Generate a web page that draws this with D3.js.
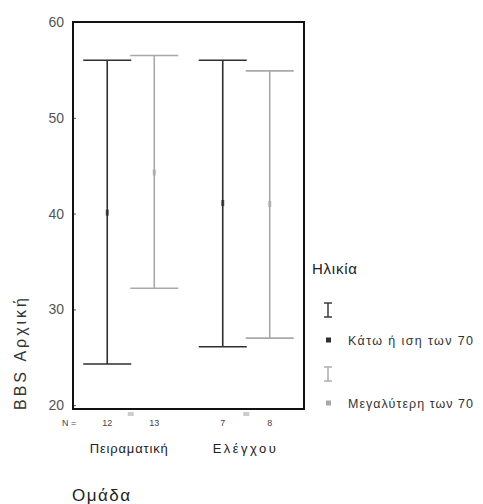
<!DOCTYPE html>
<html><head><meta charset="utf-8">
<script src="https://cdn.jsdelivr.net/npm/d3@7"></script>
<style>body{margin:0;background:#fff}svg{display:block}text{font-family:"Liberation Sans",Arial,sans-serif}</style>
</head><body>
<svg id="c" width="483" height="504"></svg>
<script>
const groups = ["Πειραματική", "Ελέγχου"];
const ageSeries = ["Κάτω ή ιση των 70", "Μεγαλύτερη των 70"];
const lowValues = [[24.3, 32.2], [26.1, 27.0]];
const highValues = [[56.0, 56.5], [56.0, 54.9]];
const meanValues = [[40.1, 44.3], [41.1, 41.0]];
const nValues = [[12, 13], [7, 8]];
const yTicks = [20, 30, 40, 50, 60];
const seriesColors = ["#2e2e2e", "#a9a9a9"];
const groupLabelLen = [78, 63];
const legendLabelLen = [125, 125];

const svg = d3.select("#c");
const L = 73, R = 304, T = 22, B = 409;
const x = d3.scalePoint().domain(groups).range([L, R]).padding(0.5);
const off = d3.scalePoint().domain(ageSeries).range([-23.5, 23.5]);
const y = d3.scaleLinear().domain([19.6, 60]).range([B, T]);
const capW = 24;

// y tick labels
const yAxis = d3.axisLeft(y).tickValues(yTicks).tickSize(-3).tickPadding(9).tickFormat(d3.format("d"));
const ga = svg.append("g").attr("transform", `translate(${L},0)`).call(yAxis);
ga.select(".domain").remove();
ga.selectAll(".tick line").attr("stroke", "#555");
ga.selectAll("text").attr("font-size", 14).attr("fill", "#555");

// frame
svg.append("rect").attr("x", L).attr("y", T).attr("width", R - L).attr("height", B - T)
  .attr("fill", "none").attr("stroke", "#111").attr("stroke-width", 2);

// x category ticks
[4, 6].forEach(dy => svg.append("g").selectAll("line").data(groups).join("line")
  .attr("x1", d => x(d) - 3).attr("x2", d => x(d) + 3)
  .attr("y1", B + dy).attr("y2", B + dy).attr("stroke", "#999").attr("stroke-width", 1));

// error bars
const items = [];
groups.forEach((g, gi) => ageSeries.forEach((s, si) => items.push({
  g, s, si, lo: lowValues[gi][si], hi: highValues[gi][si], m: meanValues[gi][si], n: nValues[gi][si]
})));
const eb = svg.append("g");
items.forEach(d => {
  const cx = x(d.g) + off(d.s);
  const col = seriesColors[d.si];
  eb.append("line").attr("x1", cx).attr("x2", cx).attr("y1", y(d.hi)).attr("y2", y(d.lo))
    .attr("stroke", col).attr("stroke-width", 1.6);
  [d.hi, d.lo].forEach(v => eb.append("line")
    .attr("x1", cx - capW).attr("x2", cx + capW).attr("y1", y(v)).attr("y2", y(v))
    .attr("stroke", col).attr("stroke-width", 1.6));
  eb.append("rect").attr("x", cx - 1.5).attr("y", y(d.m) - 3).attr("width", 3).attr("height", 6)
    .attr("fill", col).attr("opacity", 0.8);
  svg.append("text").attr("x", cx).attr("y", 426).attr("text-anchor", "middle")
    .attr("font-size", 9).attr("fill", "#444").text(d.n);
});
svg.append("text").attr("x", 62).attr("y", 426).attr("font-size", 9).attr("fill", "#444").text("N =");

// category labels
svg.selectAll(".cl").data(groups).join("text")
  .attr("x", d => x(d) - 2).attr("y", 453).attr("text-anchor", "middle")
  .attr("font-size", 13).attr("fill", "#222")
  .attr("textLength", (d, i) => groupLabelLen[i]).attr("lengthAdjust", "spacing").text(d => d);

// axis titles
svg.append("text").attr("x", 101).attr("y", 501).attr("text-anchor", "middle")
  .attr("font-size", 17).attr("fill", "#222").attr("textLength", 58).attr("lengthAdjust", "spacing").text("Ομάδα");
svg.append("text").attr("transform", "translate(26,354) rotate(-90)").attr("text-anchor", "middle")
  .attr("font-size", 16).attr("fill", "#333").attr("textLength", 112).attr("lengthAdjust", "spacing")
  .text("BBS Αρχική");

// legend
svg.append("text").attr("x", 312).attr("y", 274).attr("font-size", 15).attr("fill", "#222")
  .attr("textLength", 45).attr("lengthAdjust", "spacing").text("Ηλικία");
const legY = [[310, 340], [374, 403]];
ageSeries.forEach((s, i) => {
  const col = seriesColors[i];
  const [iy, sy] = legY[i];
  const lg = svg.append("g");
  lg.append("line").attr("x1", 328).attr("x2", 328).attr("y1", iy - 7).attr("y2", iy + 7).attr("stroke", col).attr("stroke-width", 1.4);
  lg.append("line").attr("x1", 324).attr("x2", 332).attr("y1", iy - 7).attr("y2", iy - 7).attr("stroke", col).attr("stroke-width", 1.4);
  lg.append("line").attr("x1", 324).attr("x2", 332).attr("y1", iy + 7).attr("y2", iy + 7).attr("stroke", col).attr("stroke-width", 1.4);
  lg.append("rect").attr("x", 326).attr("y", sy - 2.5).attr("width", 5).attr("height", 5).attr("fill", col);
  lg.append("text").attr("x", 348).attr("y", sy + 4.5).attr("font-size", 12.5).attr("fill", "#333")
    .attr("textLength", legendLabelLen[i]).attr("lengthAdjust", "spacing").text(s);
});
</script>
</body></html>
